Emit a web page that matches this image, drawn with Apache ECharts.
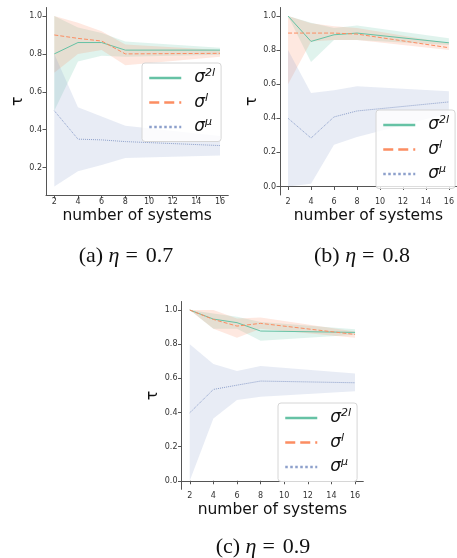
<!DOCTYPE html>
<html>
<head>
<meta charset="utf-8">
<script src="https://cdn.jsdelivr.net/npm/echarts@6/dist/echarts.min.js"></script>
<style>
  html, body { margin: 0; padding: 0; background: #fff; }
  #chart { width: 457px; height: 558px; }
</style>
</head>
<body>
<div id="chart"></div>
<script>
// number of systems (x positions)
const systems = [2, 4, 6, 8, 16]
const xTicks = [2, 4, 6, 8, 10, 12, 14, 16]

// (a) eta = 0.7
const a2lMean = [0.80, 0.86, 0.86, 0.82, 0.82]
const a2lLo = [0.50, 0.76, 0.79, 0.785, 0.795]
const a2lHi = [1.00, 0.94, 0.91, 0.865, 0.833]
const alMean = [0.90, 0.882, 0.868, 0.80, 0.803]
const alLo = [0.70, 0.80, 0.82, 0.74, 0.785]
const alHi = [1.00, 0.965, 0.92, 0.85, 0.82]
const aMuMean = [0.50, 0.35, 0.346, 0.337, 0.316]
const aMuLo = [0.10, 0.18, 0.214, 0.25, 0.263]
const aMuHi = [0.80, 0.518, 0.47, 0.42, 0.367]

// (b) eta = 0.8
const b2lMean = [1.00, 0.851, 0.89, 0.90, 0.843]
const b2lLo = [1.00, 0.731, 0.86, 0.86, 0.83]
const b2lHi = [1.00, 0.96, 0.93, 0.945, 0.869]
const blMean = [0.90, 0.90, 0.90, 0.894, 0.814]
const blLo = [0.60, 0.85, 0.86, 0.86, 0.80]
const blHi = [1.00, 0.957, 0.94, 0.93, 0.84]
const bMuMean = [0.40, 0.284, 0.408, 0.443, 0.496]
const bMuLo = [0.00, 0.016, 0.245, 0.29, 0.43]
const bMuHi = [0.80, 0.549, 0.565, 0.588, 0.559]

// (c) eta = 0.9
const c2lMean = [1.00, 0.947, 0.926, 0.877, 0.869]
const c2lLo = [1.00, 0.89, 0.89, 0.82, 0.855]
const c2lHi = [1.00, 0.98, 0.96, 0.93, 0.887]
const clMean = [1.00, 0.945, 0.906, 0.922, 0.857]
const clLo = [1.00, 0.89, 0.838, 0.89, 0.838]
const clHi = [1.00, 1.00, 0.95, 0.957, 0.875]
const cMuMean = [0.398, 0.535, 0.56, 0.584, 0.574]
const cMuLo = [0.00, 0.365, 0.473, 0.492, 0.525]
const cMuHi = [0.80, 0.684, 0.643, 0.672, 0.629]

const yTicksA = [0.2, 0.4, 0.6, 0.8, 1.0]
const yTicksBC = [0.0, 0.2, 0.4, 0.6, 0.8, 1.0]
const captions = ['(a) ', '(b) ', '(c) ']
const etas = ['0.7', '0.8', '0.9']

const GREEN = '#66c2a5'
const ORANGE = '#fc8d62'
const BLUE = '#8da0cb'

const panels = [
  { grid: { left: 46, top: 7.5, width: 182.3, height: 187.5 }, ymin: 0.055, ymax: 1.045, yTicks: yTicksA,
    legend: { left: 142, top: 63 }, cap: { x: 121, y: 240 },
    s: [[a2lMean, a2lLo, a2lHi], [alMean, alLo, alHi], [aMuMean, aMuLo, aMuHi]] },
  { grid: { left: 280, top: 7.5, width: 184, height: 187.5 }, ymin: -0.05, ymax: 1.05, yTicks: yTicksBC,
    legend: { left: 376, top: 110 }, cap: { x: 357, y: 240 },
    s: [[b2lMean, b2lLo, b2lHi], [blMean, blLo, blHi], [bMuMean, bMuLo, bMuHi]] },
  { grid: { left: 181.5, top: 301.5, width: 181.8, height: 187.8 }, ymin: -0.05, ymax: 1.05, yTicks: yTicksBC,
    legend: { left: 278, top: 403 }, cap: { x: 258, y: 531 },
    s: [[c2lMean, c2lLo, c2lHi], [clMean, clLo, clHi], [cMuMean, cMuLo, cMuHi]] },
]

const keys = ['2l', 'l', 'mu']
const colors = [GREEN, ORANGE, BLUE]
const dashes = ['solid', 'dashed', 'dotted']
const labelRich = {
  s: { fontFamily: 'DejaVu Sans', fontStyle: 'italic', fontSize: 17, color: '#111' },
  p: { fontFamily: 'DejaVu Sans', fontStyle: 'italic', fontSize: 11, color: '#111', verticalAlign: 'bottom', padding: [0, 0, 9, 0] },
}

function bandSeries(idx, lo, hi, color) {
  return {
    type: 'custom',
    xAxisIndex: idx,
    yAxisIndex: idx,
    silent: true,
    z: 1,
    data: systems.map((x, i) => [x, lo[i], hi[i]]),
    encode: { x: 0, y: [1, 2] },
    renderItem: (params, api) => {
      if (params.dataIndex !== 0) return null
      const pts = []
      for (let i = 0; i < systems.length; i++) pts.push(api.coord([systems[i], hi[i]]))
      for (let i = systems.length - 1; i >= 0; i--) pts.push(api.coord([systems[i], lo[i]]))
      return { type: 'polygon', shape: { points: pts }, style: { fill: color, opacity: 0.2 } }
    },
  }
}

const grid = []
const xAxis = []
const yAxis = []
const series = []
const legend = []
const title = []

panels.forEach((p, idx) => {
  grid.push(p.grid)
  xAxis.push({
    type: 'value', gridIndex: idx, min: 1.3, max: 16.7,
    axisLine: { lineStyle: { color: '#555', width: 1 } },
    axisTick: { show: true, length: 3.5, customValues: xTicks, lineStyle: { color: '#555' } },
    axisLabel: { customValues: xTicks, fontSize: 8, color: '#333', margin: 3, fontFamily: 'DejaVu Sans' },
    splitLine: { show: false },
    name: 'number of systems', nameLocation: 'middle', nameGap: 13,
    nameTextStyle: { fontSize: 15.5, color: '#111', fontFamily: 'DejaVu Sans' },
  })
  yAxis.push({
    type: 'value', gridIndex: idx, min: p.ymin, max: p.ymax,
    axisLine: { show: true, lineStyle: { color: '#555', width: 1 } },
    axisTick: { show: true, length: 3.5, customValues: p.yTicks, lineStyle: { color: '#555' } },
    axisLabel: { customValues: p.yTicks, fontSize: 8, color: '#333', margin: 4, fontFamily: 'DejaVu Sans',
      formatter: (v) => v.toFixed(1) },
    splitLine: { show: false },
    name: 'τ', nameLocation: 'middle', nameGap: 15,
    nameTextStyle: { fontSize: 16, color: '#111', fontFamily: 'DejaVu Sans' },
  })
  const names = []
  p.s.forEach(([mean, lo, hi], k) => {
    series.push(bandSeries(idx, lo, hi, colors[k]))
  })
  p.s.forEach(([mean, lo, hi], k) => {
    const name = idx + '_' + keys[k]
    names.push(name)
    series.push({
      type: 'line', name, xAxisIndex: idx, yAxisIndex: idx, z: 3,
      data: systems.map((x, i) => [x, mean[i]]),
      symbol: 'none', color: colors[k],
      lineStyle: { width: 1, type: dashes[k], color: colors[k] },
    })
  })
  legend.push({
    data: names, orient: 'vertical', left: p.legend.left, top: p.legend.top,
    itemWidth: 32, itemHeight: 12, itemGap: 6,
    padding: [5, 6, 6, 6],
    backgroundColor: 'rgba(255,255,255,0.8)', borderColor: '#d6d6d6', borderWidth: 1, borderRadius: 3,
    lineStyle: { width: 2.5 },
    itemStyle: { opacity: 0, borderWidth: 0 },
    selectedMode: false,
    textStyle: { padding: [0, 0, 0, 8], rich: labelRich },
    formatter: (n) => {
      const k = n.split('_')[1]
      if (k === '2l') return '{s|σ}{p|2l}'
      if (k === 'l') return '{s|σ}{p|l}'
      return '{s|σ}{p|μ}'
    },
  })
  title.push({
    text: captions[idx] + '{i|η}{e|=}' + etas[idx],
    left: p.cap.x, top: p.cap.y, textAlign: 'center',
    textStyle: { fontFamily: 'Liberation Serif', fontSize: 22, fontWeight: 'normal', color: '#111',
      rich: {
        i: { fontFamily: 'Liberation Serif', fontStyle: 'italic', fontSize: 22, color: '#111' },
        e: { fontFamily: 'Liberation Serif', fontSize: 22, color: '#111', padding: [0, 8, 0, 6] },
      } },
  })
})

const chart = echarts.init(document.getElementById('chart'))
chart.setOption({
  animation: false,
  backgroundColor: '#fff',
  title, grid, xAxis, yAxis, legend, series,
})
</script>
</body>
</html>
